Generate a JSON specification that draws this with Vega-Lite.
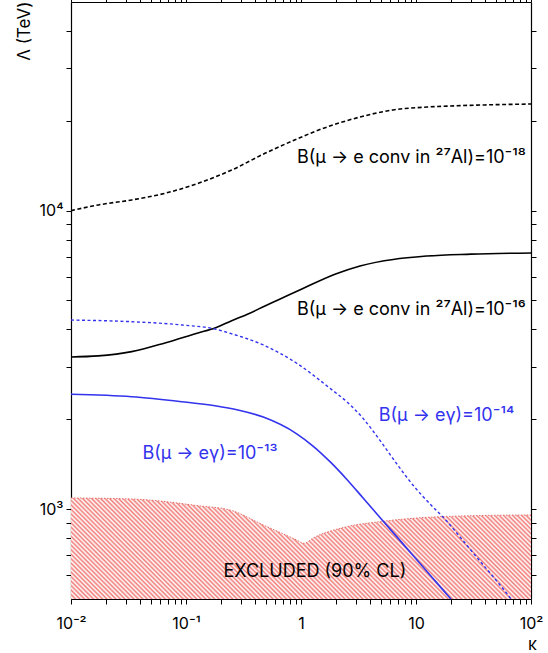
{
  "$schema": "https://vega.github.io/schema/vega-lite/v6.json",
  "width": 460,
  "height": 597,
  "autosize": {"type": "none"},
  "padding": {"left": 71, "top": 2, "right": 17, "bottom": 54},
  "background": "white",
  "config": {
    "view": {"stroke": null},
    "font": "Inter",
    "axis": {"grid": false, "domainColor": "#000", "domainWidth": 1.2, "labelColor": "#000", "labelFont": "Inter", "labelFontSize": 16, "titleFont": "Inter", "titleFontSize": 17, "titleFontWeight": "normal", "titleColor": "#000"}
  },
  "datasets": {
    "curves": [
      {"curve": "conv18", "kappa": 0.01, "lambda": 10000},
      {"curve": "conv18", "kappa": 0.0173, "lambda": 10450},
      {"curve": "conv18", "kappa": 0.0337, "lambda": 10860},
      {"curve": "conv18", "kappa": 0.0656, "lambda": 11430},
      {"curve": "conv18", "kappa": 0.128, "lambda": 12350},
      {"curve": "conv18", "kappa": 0.2496, "lambda": 13680},
      {"curve": "conv18", "kappa": 0.486, "lambda": 15560},
      {"curve": "conv18", "kappa": 0.9445, "lambda": 17450},
      {"curve": "conv18", "kappa": 1.323, "lambda": 18420},
      {"curve": "conv18", "kappa": 3.26, "lambda": 20590},
      {"curve": "conv18", "kappa": 6.3, "lambda": 21740},
      {"curve": "conv18", "kappa": 12.5, "lambda": 22240},
      {"curve": "conv18", "kappa": 20, "lambda": 22420},
      {"curve": "conv18", "kappa": 50, "lambda": 22650},
      {"curve": "conv18", "kappa": 100, "lambda": 22760},
      {"curve": "conv16", "kappa": 0.01, "lambda": 3234},
      {"curve": "conv16", "kappa": 0.0172, "lambda": 3261},
      {"curve": "conv16", "kappa": 0.0337, "lambda": 3370},
      {"curve": "conv16", "kappa": 0.0656, "lambda": 3603},
      {"curve": "conv16", "kappa": 0.127, "lambda": 3893},
      {"curve": "conv16", "kappa": 0.1786, "lambda": 4045},
      {"curve": "conv16", "kappa": 0.2496, "lambda": 4279},
      {"curve": "conv16", "kappa": 0.346, "lambda": 4506},
      {"curve": "conv16", "kappa": 0.486, "lambda": 4793},
      {"curve": "conv16", "kappa": 0.631, "lambda": 5020},
      {"curve": "conv16", "kappa": 1.04, "lambda": 5486},
      {"curve": "conv16", "kappa": 2, "lambda": 6135},
      {"curve": "conv16", "kappa": 3.26, "lambda": 6524},
      {"curve": "conv16", "kappa": 12.5, "lambda": 7047},
      {"curve": "conv16", "kappa": 30, "lambda": 7150},
      {"curve": "conv16", "kappa": 100, "lambda": 7214},
      {"curve": "meg14", "kappa": 0.01, "lambda": 4300},
      {"curve": "meg14", "kappa": 0.0337, "lambda": 4246},
      {"curve": "meg14", "kappa": 0.0918, "lambda": 4140},
      {"curve": "meg14", "kappa": 0.1786, "lambda": 4013},
      {"curve": "meg14", "kappa": 0.2415, "lambda": 3883},
      {"curve": "meg14", "kappa": 0.47, "lambda": 3548},
      {"curve": "meg14", "kappa": 0.918, "lambda": 3081},
      {"curve": "meg14", "kappa": 1.787, "lambda": 2540},
      {"curve": "meg14", "kappa": 2.495, "lambda": 2291},
      {"curve": "meg14", "kappa": 3.48, "lambda": 2010},
      {"curve": "meg14", "kappa": 4.86, "lambda": 1700},
      {"curve": "meg14", "kappa": 6.79, "lambda": 1420},
      {"curve": "meg14", "kappa": 9.47, "lambda": 1200},
      {"curve": "meg14", "kappa": 13.23, "lambda": 1041},
      {"curve": "meg14", "kappa": 18.49, "lambda": 912},
      {"curve": "meg14", "kappa": 25.8, "lambda": 782},
      {"curve": "meg14", "kappa": 36, "lambda": 670},
      {"curve": "meg14", "kappa": 50.3, "lambda": 575},
      {"curve": "meg14", "kappa": 61.5, "lambda": 522},
      {"curve": "meg14", "kappa": 67, "lambda": 500},
      {"curve": "meg13", "kappa": 0.01, "lambda": 2426},
      {"curve": "meg13", "kappa": 0.0337, "lambda": 2381},
      {"curve": "meg13", "kappa": 0.0918, "lambda": 2291},
      {"curve": "meg13", "kappa": 0.1786, "lambda": 2220},
      {"curve": "meg13", "kappa": 0.283, "lambda": 2149},
      {"curve": "meg13", "kappa": 0.47, "lambda": 2034},
      {"curve": "meg13", "kappa": 0.918, "lambda": 1788},
      {"curve": "meg13", "kappa": 1.28, "lambda": 1624},
      {"curve": "meg13", "kappa": 1.787, "lambda": 1442},
      {"curve": "meg13", "kappa": 2.495, "lambda": 1260},
      {"curve": "meg13", "kappa": 3.48, "lambda": 1088},
      {"curve": "meg13", "kappa": 4.86, "lambda": 938},
      {"curve": "meg13", "kappa": 6.79, "lambda": 809},
      {"curve": "meg13", "kappa": 9.47, "lambda": 698},
      {"curve": "meg13", "kappa": 13.23, "lambda": 602},
      {"curve": "meg13", "kappa": 18.49, "lambda": 519},
      {"curve": "meg13", "kappa": 20.15, "lambda": 500}
    ],
    "excluded": [
      {"kappa": 0.01, "lambda": 1090},
      {"kappa": 0.0346, "lambda": 1081},
      {"kappa": 0.1324, "lambda": 1025},
      {"kappa": 0.2415, "lambda": 993},
      {"kappa": 0.47, "lambda": 885},
      {"kappa": 0.918, "lambda": 788},
      {"kappa": 1.06, "lambda": 768},
      {"kappa": 1.28, "lambda": 801},
      {"kappa": 2.495, "lambda": 873},
      {"kappa": 4.86, "lambda": 908},
      {"kappa": 9.47, "lambda": 932},
      {"kappa": 25.8, "lambda": 949},
      {"kappa": 100, "lambda": 956}
    ],
    "labels": [
      {"group": "conv", "kappa": 0.923, "lambda": 14440, "text": "B(μ → e conv in ²⁷Al)=10⁻¹⁸"},
      {"group": "conv", "kappa": 0.923, "lambda": 4472, "text": "B(μ → e conv in ²⁷Al)=10⁻¹⁶"},
      {"group": "blue", "kappa": 18.4, "lambda": 1974, "text": "B(μ → eγ)=10⁻¹⁴"},
      {"group": "blue", "kappa": 0.1617, "lambda": 1472, "text": "B(μ → eγ)=10⁻¹³"},
      {"group": "black", "kappa": 1.32, "lambda": 592.6, "text": "EXCLUDED (90% CL)"}
    ]
  },
  "layer": [
    {
      "data": {"name": "excluded"},
      "mark": {"type": "area", "interpolate": "monotone", "color": {"gradient": "linear", "x1": 0, "y1": 1, "x2": 1.164, "y2": 0.744, "stops": [
        {"offset": 0, "color": "#f07c78"}, {"offset": 0.004, "color": "#fff"}, {"offset": 0.008, "color": "#f07c78"}, {"offset": 0.012, "color": "#fff"}, {"offset": 0.016, "color": "#f07c78"}, {"offset": 0.02, "color": "#fff"}, {"offset": 0.024, "color": "#f07c78"}, {"offset": 0.028, "color": "#fff"}, {"offset": 0.032, "color": "#f07c78"}, {"offset": 0.036, "color": "#fff"}, {"offset": 0.04, "color": "#f07c78"}, {"offset": 0.044, "color": "#fff"}, {"offset": 0.048, "color": "#f07c78"}, {"offset": 0.052, "color": "#fff"}, {"offset": 0.056, "color": "#f07c78"}, {"offset": 0.06, "color": "#fff"}, {"offset": 0.064, "color": "#f07c78"}, {"offset": 0.068, "color": "#fff"}, {"offset": 0.072, "color": "#f07c78"}, {"offset": 0.076, "color": "#fff"}, {"offset": 0.08, "color": "#f07c78"}, {"offset": 0.084, "color": "#fff"}, {"offset": 0.088, "color": "#f07c78"}, {"offset": 0.092, "color": "#fff"}, {"offset": 0.096, "color": "#f07c78"}, {"offset": 0.1, "color": "#fff"}, {"offset": 0.104, "color": "#f07c78"}, {"offset": 0.108, "color": "#fff"}, {"offset": 0.112, "color": "#f07c78"}, {"offset": 0.116, "color": "#fff"}, {"offset": 0.12, "color": "#f07c78"}, {"offset": 0.124, "color": "#fff"}, {"offset": 0.128, "color": "#f07c78"}, {"offset": 0.132, "color": "#fff"}, {"offset": 0.136, "color": "#f07c78"}, {"offset": 0.14, "color": "#fff"}, {"offset": 0.144, "color": "#f07c78"}, {"offset": 0.148, "color": "#fff"}, {"offset": 0.152, "color": "#f07c78"}, {"offset": 0.156, "color": "#fff"}, {"offset": 0.16, "color": "#f07c78"}, {"offset": 0.164, "color": "#fff"}, {"offset": 0.168, "color": "#f07c78"}, {"offset": 0.172, "color": "#fff"}, {"offset": 0.176, "color": "#f07c78"}, {"offset": 0.18, "color": "#fff"}, {"offset": 0.184, "color": "#f07c78"}, {"offset": 0.188, "color": "#fff"}, {"offset": 0.192, "color": "#f07c78"}, {"offset": 0.196, "color": "#fff"},
        {"offset": 0.2, "color": "#f07c78"}, {"offset": 0.204, "color": "#fff"}, {"offset": 0.208, "color": "#f07c78"}, {"offset": 0.212, "color": "#fff"}, {"offset": 0.216, "color": "#f07c78"}, {"offset": 0.22, "color": "#fff"}, {"offset": 0.224, "color": "#f07c78"}, {"offset": 0.228, "color": "#fff"}, {"offset": 0.232, "color": "#f07c78"}, {"offset": 0.236, "color": "#fff"}, {"offset": 0.24, "color": "#f07c78"}, {"offset": 0.244, "color": "#fff"}, {"offset": 0.248, "color": "#f07c78"}, {"offset": 0.252, "color": "#fff"}, {"offset": 0.256, "color": "#f07c78"}, {"offset": 0.26, "color": "#fff"}, {"offset": 0.264, "color": "#f07c78"}, {"offset": 0.268, "color": "#fff"}, {"offset": 0.272, "color": "#f07c78"}, {"offset": 0.276, "color": "#fff"}, {"offset": 0.28, "color": "#f07c78"}, {"offset": 0.284, "color": "#fff"}, {"offset": 0.288, "color": "#f07c78"}, {"offset": 0.292, "color": "#fff"}, {"offset": 0.296, "color": "#f07c78"}, {"offset": 0.3, "color": "#fff"}, {"offset": 0.304, "color": "#f07c78"}, {"offset": 0.308, "color": "#fff"}, {"offset": 0.312, "color": "#f07c78"}, {"offset": 0.316, "color": "#fff"}, {"offset": 0.32, "color": "#f07c78"}, {"offset": 0.324, "color": "#fff"}, {"offset": 0.328, "color": "#f07c78"}, {"offset": 0.332, "color": "#fff"}, {"offset": 0.336, "color": "#f07c78"}, {"offset": 0.34, "color": "#fff"}, {"offset": 0.344, "color": "#f07c78"}, {"offset": 0.348, "color": "#fff"}, {"offset": 0.352, "color": "#f07c78"}, {"offset": 0.356, "color": "#fff"}, {"offset": 0.36, "color": "#f07c78"}, {"offset": 0.364, "color": "#fff"}, {"offset": 0.368, "color": "#f07c78"}, {"offset": 0.372, "color": "#fff"}, {"offset": 0.376, "color": "#f07c78"}, {"offset": 0.38, "color": "#fff"}, {"offset": 0.384, "color": "#f07c78"}, {"offset": 0.388, "color": "#fff"}, {"offset": 0.392, "color": "#f07c78"}, {"offset": 0.396, "color": "#fff"},
        {"offset": 0.4, "color": "#f07c78"}, {"offset": 0.404, "color": "#fff"}, {"offset": 0.408, "color": "#f07c78"}, {"offset": 0.412, "color": "#fff"}, {"offset": 0.416, "color": "#f07c78"}, {"offset": 0.42, "color": "#fff"}, {"offset": 0.424, "color": "#f07c78"}, {"offset": 0.428, "color": "#fff"}, {"offset": 0.432, "color": "#f07c78"}, {"offset": 0.436, "color": "#fff"}, {"offset": 0.44, "color": "#f07c78"}, {"offset": 0.444, "color": "#fff"}, {"offset": 0.448, "color": "#f07c78"}, {"offset": 0.452, "color": "#fff"}, {"offset": 0.456, "color": "#f07c78"}, {"offset": 0.46, "color": "#fff"}, {"offset": 0.464, "color": "#f07c78"}, {"offset": 0.468, "color": "#fff"}, {"offset": 0.472, "color": "#f07c78"}, {"offset": 0.476, "color": "#fff"}, {"offset": 0.48, "color": "#f07c78"}, {"offset": 0.484, "color": "#fff"}, {"offset": 0.488, "color": "#f07c78"}, {"offset": 0.492, "color": "#fff"}, {"offset": 0.496, "color": "#f07c78"}, {"offset": 0.5, "color": "#fff"}, {"offset": 0.504, "color": "#f07c78"}, {"offset": 0.508, "color": "#fff"}, {"offset": 0.512, "color": "#f07c78"}, {"offset": 0.516, "color": "#fff"}, {"offset": 0.52, "color": "#f07c78"}, {"offset": 0.524, "color": "#fff"}, {"offset": 0.528, "color": "#f07c78"}, {"offset": 0.532, "color": "#fff"}, {"offset": 0.536, "color": "#f07c78"}, {"offset": 0.54, "color": "#fff"}, {"offset": 0.544, "color": "#f07c78"}, {"offset": 0.548, "color": "#fff"}, {"offset": 0.552, "color": "#f07c78"}, {"offset": 0.556, "color": "#fff"}, {"offset": 0.56, "color": "#f07c78"}, {"offset": 0.564, "color": "#fff"}, {"offset": 0.568, "color": "#f07c78"}, {"offset": 0.572, "color": "#fff"}, {"offset": 0.576, "color": "#f07c78"}, {"offset": 0.58, "color": "#fff"}, {"offset": 0.584, "color": "#f07c78"}, {"offset": 0.588, "color": "#fff"}, {"offset": 0.592, "color": "#f07c78"}, {"offset": 0.596, "color": "#fff"},
        {"offset": 0.6, "color": "#f07c78"}, {"offset": 0.604, "color": "#fff"}, {"offset": 0.608, "color": "#f07c78"}, {"offset": 0.612, "color": "#fff"}, {"offset": 0.616, "color": "#f07c78"}, {"offset": 0.62, "color": "#fff"}, {"offset": 0.624, "color": "#f07c78"}, {"offset": 0.628, "color": "#fff"}, {"offset": 0.632, "color": "#f07c78"}, {"offset": 0.636, "color": "#fff"}, {"offset": 0.64, "color": "#f07c78"}, {"offset": 0.644, "color": "#fff"}, {"offset": 0.648, "color": "#f07c78"}, {"offset": 0.652, "color": "#fff"}, {"offset": 0.656, "color": "#f07c78"}, {"offset": 0.66, "color": "#fff"}, {"offset": 0.664, "color": "#f07c78"}, {"offset": 0.668, "color": "#fff"}, {"offset": 0.672, "color": "#f07c78"}, {"offset": 0.676, "color": "#fff"}, {"offset": 0.68, "color": "#f07c78"}, {"offset": 0.684, "color": "#fff"}, {"offset": 0.688, "color": "#f07c78"}, {"offset": 0.692, "color": "#fff"}, {"offset": 0.696, "color": "#f07c78"}, {"offset": 0.7, "color": "#fff"}, {"offset": 0.704, "color": "#f07c78"}, {"offset": 0.708, "color": "#fff"}, {"offset": 0.712, "color": "#f07c78"}, {"offset": 0.716, "color": "#fff"}, {"offset": 0.72, "color": "#f07c78"}, {"offset": 0.724, "color": "#fff"}, {"offset": 0.728, "color": "#f07c78"}, {"offset": 0.732, "color": "#fff"}, {"offset": 0.736, "color": "#f07c78"}, {"offset": 0.74, "color": "#fff"}, {"offset": 0.744, "color": "#f07c78"}, {"offset": 0.748, "color": "#fff"}, {"offset": 0.752, "color": "#f07c78"}, {"offset": 0.756, "color": "#fff"}, {"offset": 0.76, "color": "#f07c78"}, {"offset": 0.764, "color": "#fff"}, {"offset": 0.768, "color": "#f07c78"}, {"offset": 0.772, "color": "#fff"}, {"offset": 0.776, "color": "#f07c78"}, {"offset": 0.78, "color": "#fff"}, {"offset": 0.784, "color": "#f07c78"}, {"offset": 0.788, "color": "#fff"}, {"offset": 0.792, "color": "#f07c78"}, {"offset": 0.796, "color": "#fff"},
        {"offset": 0.8, "color": "#f07c78"}, {"offset": 0.804, "color": "#fff"}, {"offset": 0.808, "color": "#f07c78"}, {"offset": 0.812, "color": "#fff"}, {"offset": 0.816, "color": "#f07c78"}, {"offset": 0.82, "color": "#fff"}, {"offset": 0.824, "color": "#f07c78"}, {"offset": 0.828, "color": "#fff"}, {"offset": 0.832, "color": "#f07c78"}, {"offset": 0.836, "color": "#fff"}, {"offset": 0.84, "color": "#f07c78"}, {"offset": 0.844, "color": "#fff"}, {"offset": 0.848, "color": "#f07c78"}, {"offset": 0.852, "color": "#fff"}, {"offset": 0.856, "color": "#f07c78"}, {"offset": 0.86, "color": "#fff"}, {"offset": 0.864, "color": "#f07c78"}, {"offset": 0.868, "color": "#fff"}, {"offset": 0.872, "color": "#f07c78"}, {"offset": 0.876, "color": "#fff"}, {"offset": 0.88, "color": "#f07c78"}, {"offset": 0.884, "color": "#fff"}, {"offset": 0.888, "color": "#f07c78"}, {"offset": 0.892, "color": "#fff"}, {"offset": 0.896, "color": "#f07c78"}, {"offset": 0.9, "color": "#fff"}, {"offset": 0.904, "color": "#f07c78"}, {"offset": 0.908, "color": "#fff"}, {"offset": 0.912, "color": "#f07c78"}, {"offset": 0.916, "color": "#fff"}, {"offset": 0.92, "color": "#f07c78"}, {"offset": 0.924, "color": "#fff"}, {"offset": 0.928, "color": "#f07c78"}, {"offset": 0.932, "color": "#fff"}, {"offset": 0.936, "color": "#f07c78"}, {"offset": 0.94, "color": "#fff"}, {"offset": 0.944, "color": "#f07c78"}, {"offset": 0.948, "color": "#fff"}, {"offset": 0.952, "color": "#f07c78"}, {"offset": 0.956, "color": "#fff"}, {"offset": 0.96, "color": "#f07c78"}, {"offset": 0.964, "color": "#fff"}, {"offset": 0.968, "color": "#f07c78"}, {"offset": 0.972, "color": "#fff"}, {"offset": 0.976, "color": "#f07c78"}, {"offset": 0.98, "color": "#fff"}, {"offset": 0.984, "color": "#f07c78"}, {"offset": 0.988, "color": "#fff"}, {"offset": 0.992, "color": "#f07c78"}, {"offset": 0.996, "color": "#fff"}, {"offset": 1, "color": "#f07c78"}
      ]}},
      "encoding": {
        "x": {"field": "kappa", "type": "quantitative", "scale": {"type": "log", "domain": [0.01, 100]},
          "axis": {"orient": "bottom", "values": [0.01,0.02,0.03,0.04,0.05,0.06,0.07,0.08,0.09,0.1,0.2,0.3,0.4,0.5,0.6,0.7,0.8,0.9,1,2,3,4,5,6,7,8,9,10,20,30,40,50,60,70,80,90,100],
            "labelExpr": "datum.value == 0.01 ? '10⁻²' : datum.value == 0.1 ? '10⁻¹' : datum.value == 1 ? '1' : datum.value == 10 ? '10' : datum.value == 100 ? '10²' : ''",
            "labelOverlap": false, "labelFlush": false, "labelBaseline": "top", "labelPadding": 11,
            "ticks": true, "tickSize": 5, "tickColor": "#000", "tickWidth": 1, "tickOpacity": 1,
            "title": "κ", "titleX": 461, "titleY": 50, "titleAlign": "center", "titleBaseline": "alphabetic", "titleAnchor": null}},
        "y": {"field": "lambda", "type": "quantitative", "scale": {"type": "log", "domain": [500, 50000]},
          "axis": {"orient": "left", "values": [600,700,800,900,1000,2000,3000,4000,5000,6000,7000,8000,9000,10000,20000,30000,40000],
            "labelExpr": "datum.value == 1000 ? '10³' : datum.value == 10000 ? '10⁴' : ''",
            "labelOverlap": false, "labelFlush": false, "labelPadding": 3,
            "ticks": true, "tickSize": 5, "tickColor": "#000", "tickWidth": 1, "tickOpacity": 1,
            "title": "Λ (TeV)", "titleX": -42, "titleY": -1, "titleAngle": 270, "titleAlign": "right", "titleBaseline": "alphabetic", "titleAnchor": null}},
        "y2": {"datum": 500}
      }
    },
    {
      "data": {"name": "excluded"},
      "mark": {"type": "line", "interpolate": "monotone", "color": "#e0605a", "strokeWidth": 0.9, "strokeDash": [1.5, 1.5]},
      "encoding": {
        "x": {"field": "kappa", "type": "quantitative", "scale": {"type": "log", "domain": [0.01, 100]},
          "axis": {"orient": "top", "values": [0.01,0.02,0.03,0.04,0.05,0.06,0.07,0.08,0.09,0.1,0.2,0.3,0.4,0.5,0.6,0.7,0.8,0.9,1,2,3,4,5,6,7,8,9,10,20,30,40,50,60,70,80,90,100],
            "labels": false, "title": null, "ticks": true, "tickSize": 5, "tickColor": "#000", "tickWidth": 1, "tickOpacity": 1}},
        "y": {"field": "lambda", "type": "quantitative", "scale": {"type": "log", "domain": [500, 50000]},
          "axis": {"orient": "right", "values": [600,700,800,900,1000,2000,3000,4000,5000,6000,7000,8000,9000,10000,20000,30000,40000],
            "labels": false, "title": null, "ticks": true, "tickSize": 5, "tickColor": "#000", "tickWidth": 1, "tickOpacity": 1}}
      }
    },
    {
      "data": {"name": "curves"},
      "transform": [{"filter": "datum.curve == 'conv18'"}],
      "mark": {"type": "line", "interpolate": "monotone", "color": "#000", "strokeWidth": 1.6, "strokeDash": [4, 2.5]},
      "encoding": {
        "x": {"field": "kappa", "type": "quantitative", "scale": {"type": "log", "domain": [0.01, 100]}, "axis": null},
        "y": {"field": "lambda", "type": "quantitative", "scale": {"type": "log", "domain": [500, 50000]}, "axis": null}
      }
    },
    {
      "data": {"name": "curves"},
      "transform": [{"filter": "datum.curve == 'conv16'"}],
      "mark": {"type": "line", "interpolate": "monotone", "color": "#000", "strokeWidth": 1.6},
      "encoding": {
        "x": {"field": "kappa", "type": "quantitative", "scale": {"type": "log", "domain": [0.01, 100]}, "axis": null},
        "y": {"field": "lambda", "type": "quantitative", "scale": {"type": "log", "domain": [500, 50000]}, "axis": null}
      }
    },
    {
      "data": {"name": "curves"},
      "transform": [{"filter": "datum.curve == 'meg14'"}],
      "mark": {"type": "line", "interpolate": "monotone", "color": "#3333ee", "strokeWidth": 1.4, "strokeDash": [3, 2.5]},
      "encoding": {
        "x": {"field": "kappa", "type": "quantitative", "scale": {"type": "log", "domain": [0.01, 100]}, "axis": null},
        "y": {"field": "lambda", "type": "quantitative", "scale": {"type": "log", "domain": [500, 50000]}, "axis": null}
      }
    },
    {
      "data": {"name": "curves"},
      "transform": [{"filter": "datum.curve == 'meg13'"}],
      "mark": {"type": "line", "interpolate": "monotone", "color": "#3333ee", "strokeWidth": 1.6},
      "encoding": {
        "x": {"field": "kappa", "type": "quantitative", "scale": {"type": "log", "domain": [0.01, 100]}, "axis": null},
        "y": {"field": "lambda", "type": "quantitative", "scale": {"type": "log", "domain": [500, 50000]}, "axis": null}
      }
    },
    {
      "data": {"name": "labels"},
      "transform": [{"filter": "datum.group == 'conv'"}],
      "mark": {"type": "text", "fontSize": 18, "font": "Inter", "align": "left", "baseline": "alphabetic", "color": "#000"},
      "encoding": {
        "x": {"field": "kappa", "type": "quantitative", "scale": {"type": "log", "domain": [0.01, 100]}, "axis": null},
        "y": {"field": "lambda", "type": "quantitative", "scale": {"type": "log", "domain": [500, 50000]}, "axis": null},
        "text": {"field": "text"}
      }
    },
    {
      "data": {"name": "labels"},
      "transform": [{"filter": "datum.group != 'conv'"}],
      "mark": {"type": "text", "fontSize": 18, "font": "Inter", "align": "center", "baseline": "alphabetic"},
      "encoding": {
        "x": {"field": "kappa", "type": "quantitative", "scale": {"type": "log", "domain": [0.01, 100]}, "axis": null},
        "y": {"field": "lambda", "type": "quantitative", "scale": {"type": "log", "domain": [500, 50000]}, "axis": null},
        "text": {"field": "text"},
        "color": {"field": "group", "type": "nominal", "scale": {"domain": ["black", "blue"], "range": ["#000000", "#3333ee"]}, "legend": null}
      }
    }
  ],
  "resolve": {"axis": {"x": "independent", "y": "independent"}}
}
